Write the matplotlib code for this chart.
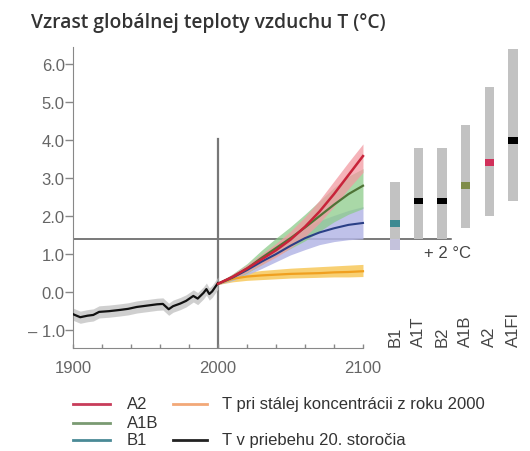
import numpy as np
import matplotlib.pyplot as plt
from matplotlib.lines import Line2D

plt.rcParams['font.family'] = ['Liberation Sans', 'DejaVu Sans']

# historické teploty (20. storočie)
hist_years = [1900, 1905, 1910, 1914, 1918, 1925, 1932, 1938, 1944, 1950, 1958, 1962,
              1966, 1969, 1974, 1978, 1983, 1986, 1990, 1992, 1994, 1996, 2000]
hist_temp = [-0.58, -0.66, -0.62, -0.60, -0.52, -0.50, -0.47, -0.44, -0.39, -0.36, -0.32, -0.31,
             -0.45, -0.37, -0.30, -0.23, -0.10, -0.17, -0.02, 0.08, -0.05, 0.02, 0.24]
hist_unc = 0.16

# projekcie 2000-2100
proj_years = [2000, 2010, 2020, 2030, 2040, 2050, 2060, 2070, 2080, 2090, 2100]
a2_mid = [0.22, 0.40, 0.62, 0.86, 1.10, 1.38, 1.72, 2.12, 2.58, 3.08, 3.58]
a2_lo = [0.20, 0.33, 0.52, 0.72, 0.92, 1.16, 1.46, 1.82, 2.25, 2.72, 3.15]
a2_hi = [0.24, 0.47, 0.72, 1.00, 1.28, 1.60, 1.98, 2.42, 2.92, 3.42, 3.90]
a1b_mid = [0.22, 0.40, 0.62, 0.90, 1.16, 1.42, 1.70, 2.00, 2.30, 2.58, 2.80]
a1b_lo = [0.20, 0.32, 0.50, 0.72, 0.95, 1.15, 1.35, 1.60, 1.85, 2.05, 2.20]
a1b_hi = [0.24, 0.48, 0.75, 1.10, 1.42, 1.72, 2.05, 2.40, 2.75, 3.05, 3.25]
b1_mid = [0.22, 0.38, 0.58, 0.80, 1.00, 1.22, 1.42, 1.57, 1.68, 1.77, 1.82]
b1_lo = [0.20, 0.30, 0.45, 0.62, 0.80, 0.98, 1.12, 1.25, 1.33, 1.38, 1.40]
b1_hi = [0.24, 0.46, 0.70, 0.98, 1.22, 1.45, 1.70, 1.88, 2.02, 2.15, 2.25]
const_mid = [0.22, 0.35, 0.41, 0.44, 0.46, 0.48, 0.49, 0.50, 0.52, 0.53, 0.55]
const_lo = [0.20, 0.27, 0.31, 0.33, 0.35, 0.37, 0.38, 0.39, 0.40, 0.40, 0.41]
const_hi = [0.24, 0.43, 0.52, 0.57, 0.60, 0.63, 0.65, 0.67, 0.69, 0.71, 0.73]

# rozsahy scenárov v roku 2100
scen_names = ['B1', 'A1T', 'B2', 'A1B', 'A2', 'A1FI']
scen_low = [1.1, 1.4, 1.4, 1.7, 2.0, 2.4]
scen_high = [2.9, 3.8, 3.8, 4.4, 5.4, 6.4]
scen_best = [1.8, 2.4, 2.4, 2.8, 3.4, 4.0]
scen_colors = ['#3d8a92', 'black', 'black', '#7f8c4a', '#d0305a', 'black']

fig = plt.figure(figsize=(5.3, 4.52), dpi=100)
ax = fig.add_axes([73 / 530, 103 / 452, 457 / 530, 301 / 452])
ax.set_xlim(1900, 2215.2)
ax.set_ylim(-1.47, 6.45)

# +2 °C čiara a rok 2000
ax.plot([1900, 2161], [1.4, 1.4], color='#555555', lw=1.1, zorder=1)
ax.plot([2000, 2000], [-1.47, 4.03], color='#777777', lw=1.6, zorder=1)

# historická krivka
ht = np.array(hist_temp)
ax.fill_between(hist_years, ht - hist_unc, ht + hist_unc, color='#c4c4c4', alpha=0.8, lw=0, zorder=2)
ax.plot(hist_years, ht, color='#111111', lw=1.6, zorder=6)

# projekcie
ax.fill_between(proj_years, const_lo, const_hi, color='#f7c85a', alpha=0.85, lw=0, zorder=2)
ax.plot(proj_years, const_mid, color='#f0a020', lw=1.6, zorder=5)
ax.fill_between(proj_years, b1_lo, b1_hi, color='#b4b6e6', alpha=0.85, lw=0, zorder=2)
ax.fill_between(proj_years, a1b_lo, a1b_hi, color='#8ccb8a', alpha=0.75, lw=0, zorder=3)
ax.fill_between(proj_years, a2_lo, a2_hi, color='#f29aa2', alpha=0.75, lw=0, zorder=3)
ax.plot(proj_years, b1_mid, color='#2a3f86', lw=1.5, zorder=5)
ax.plot(proj_years, a1b_mid, color='#4f7336', lw=1.6, zorder=5)
ax.plot(proj_years, a2_mid, color='#c8243a', lw=1.8, zorder=6)

# stĺpce scenárov
xpos = 2122 + 16.3 * np.arange(len(scen_names))
ax.bar(xpos, np.array(scen_high) - np.array(scen_low), bottom=scen_low, width=6.5,
       color='#c2c2c2', zorder=2)
ax.bar(xpos[0], 1.4 - scen_low[0], bottom=scen_low[0], width=6.5, color='#c4c2dc', zorder=2)
ax.bar(xpos, 0.18, bottom=np.array(scen_best) - 0.09, width=6.5, color=scen_colors, zorder=4)
for x, name in zip(xpos, scen_names):
    ax.text(x, -1.42, name, rotation=90, ha='center', va='bottom', fontsize=12, color='#444444')
ax.text(2142, 1.04, '+ 2 °C', ha='left', va='center', fontsize=12, color='#444444')

# osi
for s in ['top', 'right']:
    ax.spines[s].set_visible(False)
ax.spines['left'].set_color('#888888')
ax.spines['bottom'].set_color('#888888')
ax.spines['bottom'].set_bounds(1900, 2100)
ax.set_yticks(range(-1, 7))
ax.set_yticklabels(['\u2013 1.0', '0.0', '1.0', '2.0', '3.0', '4.0', '5.0', '6.0'])
ax.tick_params(axis='y', length=6, width=1, color='#888888', labelcolor='#666666',
               labelsize=12, pad=0)
ax.set_xticks(range(1900, 2101, 20))
ax.set_xticklabels(['1900', '', '', '', '', '2000', '', '', '', '', '2100'])
ax.tick_params(axis='x', direction='in', length=3, width=1, color='#888888',
               labelcolor='#666666', labelsize=12, pad=9)

fig.text(31 / 530, 1 - 23 / 452, 'Vzrast globálnej teploty vzduchu T (°C)',
         fontsize=13.9, fontweight='semibold', family=['Open Sans', 'DejaVu Sans'],
         color='#333333', va='center', ha='left')

# legenda
def fy(py):
    return 1 - py / 452

leg_left = [('A2', '#c83c5a', 405), ('A1B', '#7a9a72', 424), ('B1', '#4a8a96', 441)]
for label, col, py in leg_left:
    fig.add_artist(Line2D([73 / 530, 110 / 530], [fy(py), fy(py)], color=col, lw=2))
    fig.text(127 / 530, fy(py), label, fontsize=12, color='#333333', va='center')
leg_right = [('T pri stálej koncentrácii z roku 2000', '#f2a878', 405),
             ('T v priebehu 20. storočia', '#222222', 441)]
for label, col, py in leg_right:
    fig.add_artist(Line2D([173 / 530, 207 / 530], [fy(py), fy(py)], color=col, lw=2))
    fig.text(222 / 530, fy(py), label, fontsize=12, color='#333333', va='center')

fig.savefig('out.png', dpi=100, facecolor='white')
